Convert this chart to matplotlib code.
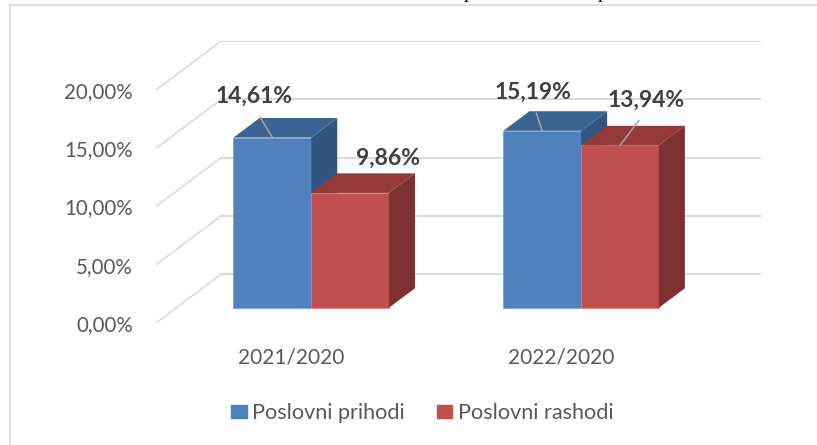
import matplotlib.pyplot as plt
from matplotlib.patches import Patch
from matplotlib.lines import Line2D

plt.rcParams['font.family'] = ['Lato', 'DejaVu Sans']

# data
categories = ['2021/2020', '2022/2020']
series_names = ['Poslovni prihodi', 'Poslovni rashodi']
prihodi = [14.61, 15.19]
rashodi = [9.86, 13.94]
y_ticks = [0, 5, 10, 15, 20]

# colours: front, top, side
blue = ('#4F81BD', '#3C6492', '#33567F')
red = ('#C0504D', '#943B39', '#7D3130')
grid_c = '#D9D9D9'

# fake 3d: full depth of the plot box in data units
DX, DY = 0.2416, 4.2
bar_w = 0.288
d0, d1 = 0.31, 0.71   # front / back depth of the bars

W, H = 817, 445
fig = plt.figure(figsize=(W / 100, H / 100), dpi=100)
ax = fig.add_axes([156 / W, (H - 323) / H, (761 - 156) / W, (323 - 41) / H])
ax.set_xlim(-0.5, 1.5 + DX)
ax.set_ylim(0, 20 + DY)
for s in ax.spines.values():
    s.set_visible(False)

# side wall + back wall gridlines
for y in y_ticks:
    ax.plot([-0.5, -0.5 + DX], [y, y + DY], color=grid_c, lw=1.1, zorder=1)
    ax.plot([-0.5 + DX, 1.5 + DX], [y + DY, y + DY], color=grid_c, lw=1.4, zorder=1)


def bar3d(xl, v, cols, edge):
    x0 = xl + d0 * DX
    x1 = x0 + bar_w
    dd = d1 - d0
    yb, yt = d0 * DY, v + d0 * DY
    ax.fill([x0, x1, x1, x0], [yb, yb, yt, yt], color=cols[0], lw=0.6, ec=edge, zorder=3)
    ax.fill([x0, x1, x1 + dd * DX, x0 + dd * DX], [yt, yt, v + d1 * DY, v + d1 * DY], color=cols[1], lw=0, zorder=3)
    ax.fill([x1, x1, x1 + dd * DX, x1 + dd * DX], [yb, yt, v + d1 * DY, d1 * DY], color=cols[2], lw=0, zorder=3)
    return (x0 + x1) / 2, yt


# label offsets in points from the front-top centre of each bar
label_offsets = [[(-13, 29.5), (27.7, 25.2)], [(-6.8, 28), (19, 32.4)]]
leader = [[True, False], [True, True]]

for i, c in enumerate(categories):
    for j, (vals, cols, edge) in enumerate([(prihodi, blue, '#7FA0CC'), (rashodi, red, '#D68482')]):
        v = vals[i]
        xl = i - bar_w if j == 0 else i
        bx, by = bar3d(xl, v, cols, edge)
        txt = f'{v:.2f}%'.replace('.', ',')
        ap = dict(arrowstyle='-', color='#A6A6A6', lw=1.1, relpos=(0.5, 0), shrinkA=6, shrinkB=0) if leader[i][j] else None
        ax.annotate(txt, (bx, by), xytext=label_offsets[i][j], textcoords='offset points',
                    ha='center', va='center', fontsize=16.5, fontweight='bold', color='#404040',
                    arrowprops=ap, zorder=5, annotation_clip=False)

ax.set_yticks(y_ticks)
ax.set_yticklabels([f'{t:.2f}%'.replace('.', ',') for t in y_ticks])
ax.set_xticks(range(len(categories)))
ax.set_xticklabels(categories)
ax.tick_params(axis='y', length=0, pad=16.5, labelsize=14.8, labelcolor='#595959')
ax.tick_params(axis='x', length=0, pad=17.5, labelsize=15, labelcolor='#595959')

handles = [Patch(color=blue[0]), Patch(color=red[0])]
leg = fig.legend(handles, series_names, loc='center', bbox_to_anchor=(422.5 / W, 1 - 413 / H),
                 ncol=2, frameon=False, fontsize=15.6, handlelength=0.7, handleheight=0.55,
                 handletextpad=0.25, columnspacing=1.5, borderpad=0)
for t in leg.get_texts():
    t.set_color('#595959')

# chart frame (top and left edges visible) and clipped title descenders
fig.add_artist(Line2D([10 / W, 1], [1 - 5 / H, 1 - 5 / H], color=grid_c, lw=1.2))
fig.add_artist(Line2D([10 / W, 10 / W], [0, 1 - 5 / H], color=grid_c, lw=1.2))
for px in (468, 602):
    fig.text(px / W, 1 + 1.5 / H, 'p', family='Liberation Serif', fontsize=14,
             ha='center', va='baseline', color='black')

fig.savefig('out.png', dpi=100)
